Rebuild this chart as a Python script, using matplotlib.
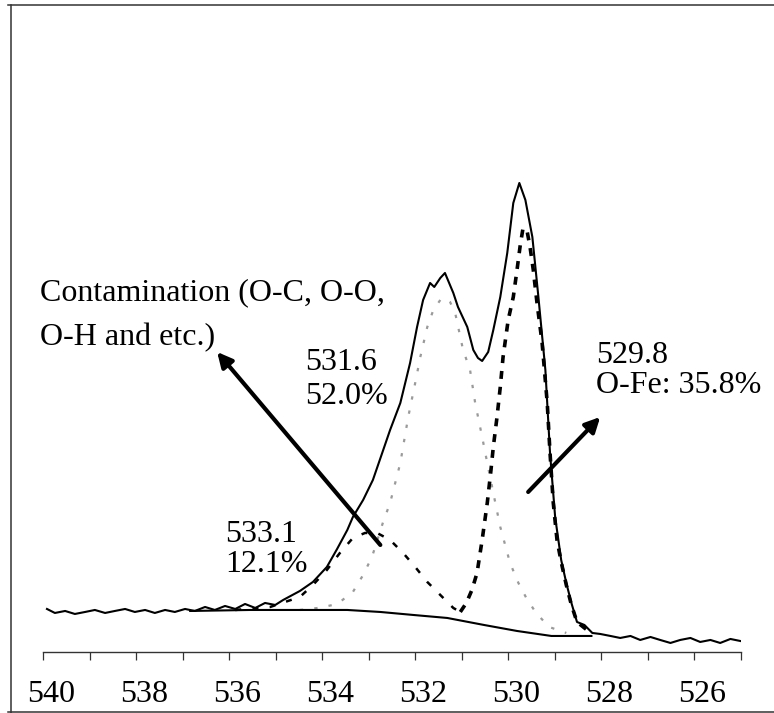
import matplotlib
matplotlib.use("Agg")
import matplotlib.pyplot as plt
from matplotlib.lines import Line2D
from matplotlib.ticker import MultipleLocator
from matplotlib.transforms import ScaledTranslation

plt.rcParams['font.family'] = ['Liberation Serif', 'DejaVu Serif']

# O 1s spectrum, binding energy (eV) and intensity (a.u.)
energy = [539.92, 539.75, 539.53, 539.32, 539.10, 538.89, 538.67, 538.46, 538.24, 538.03,
          537.81, 537.60, 537.38, 537.17, 536.95, 536.74, 536.52, 536.31, 536.09, 535.87,
          535.66, 535.44, 535.23, 535.01, 534.84, 534.48, 534.20, 533.90, 533.68, 533.46,
          533.34, 533.12, 532.91, 532.71, 532.54, 532.32, 532.11, 531.96, 531.83, 531.68,
          531.59, 531.46, 531.36, 531.18, 531.08, 530.88, 530.75, 530.65, 530.56, 530.43,
          530.32, 530.17, 530.02, 529.89, 529.76, 529.63, 529.48, 529.35, 529.20, 529.10,
          528.99, 528.86, 528.75, 528.64, 528.52, 528.36, 528.19, 528.02, 527.80, 527.59,
          527.37, 527.16, 526.94, 526.73, 526.51, 526.30, 526.08, 525.87, 525.65, 525.44,
          525.22, 525.01]
counts = [43, 39, 41, 38, 40, 42, 39, 41, 43, 40,
          42, 39, 42, 40, 43, 41, 45, 42, 46, 43,
          48, 44, 49, 47, 52, 61, 70, 85, 103, 122,
          135, 152, 172, 199, 222, 249, 289, 325, 352, 369,
          365, 374, 379, 359, 345, 325, 302, 294, 291, 300,
          322, 355, 399, 449, 469, 452, 415, 355, 282, 199,
          135, 92, 69, 49, 30, 27, 19, 18, 16, 14,
          16, 12, 15, 12, 9, 12, 14, 10, 12, 9,
          13, 11]

# Shirley-type background
bg_energy = [536.84, 535.55, 534.48, 533.46, 532.75, 532.04, 531.31, 530.52, 529.81, 529.07, 528.21]
bg_counts = [41, 42, 42, 42, 40, 37, 34, 27, 21, 16, 16]

# fitted components
c533_energy = [535.87, 535.12, 534.48, 534.20, 533.90, 533.62, 533.34, 533.08, 532.82, 532.54,
               532.26, 532.00, 531.74, 531.46, 531.18, 531.03]
c533_counts = [42, 45, 55, 67, 82, 99, 114, 119, 119, 112, 99, 85, 70, 57, 44, 40]

c531_energy = [534.48, 534.09, 533.77, 533.62, 533.34, 533.12, 532.93, 532.69, 532.54, 532.32,
               532.15, 532.00, 531.89, 531.74, 531.61, 531.46, 531.36, 531.25, 531.14, 530.97,
               530.82, 530.71, 530.56, 530.45, 530.32, 530.17, 529.96, 529.78, 529.61, 529.40,
               529.12, 528.75]
c531_counts = [42, 44, 47, 50, 60, 77, 95, 130, 149, 189,
               235, 269, 295, 325, 342, 352, 354, 350, 339, 302,
               282, 249, 215, 189, 159, 125, 89, 69, 54, 39,
               25, 19]

c530_energy = [531.03, 530.90, 530.78, 530.67, 530.56, 530.45, 530.37, 530.32, 530.24, 530.17,
               530.11, 530.00, 529.89, 529.81, 529.74, 529.68, 529.59, 529.53, 529.46, 529.38,
               529.27, 529.16, 529.10, 529.03, 528.95, 528.86, 528.75, 528.64, 528.52, 528.36,
               528.19]
c530_counts = [40, 49, 62, 79, 112, 149, 182, 205, 235, 265,
               295, 332, 355, 382, 407, 424, 420, 405, 382, 349,
               309, 249, 199, 149, 112, 90, 67, 47, 30, 24,
               18]

tick_labels = ['540', '538', '536', '534', '532', '530', '528', '526']

fig = plt.figure(figsize=(7.74, 7.13), dpi=100)
ax = fig.add_axes([0.0559, 0.0856, 0.9010, 0.9074])

ax.plot(c531_energy, c531_counts, color='#9a9a9a', lw=1.6, linestyle=(0, (1.5, 5)))
ax.plot(c533_energy, c533_counts, color='black', lw=1.8, linestyle=(0, (2.4, 4.5)))
ax.plot(c530_energy, c530_counts, color='black', lw=2.6, linestyle=(0, (2.2, 2.2)))
ax.plot(bg_energy, bg_counts, color='black', lw=1.5)
ax.plot(energy, counts, color='black', lw=1.5)

ax.set_xlim(540, 525)
ax.set_ylim(0, 647)

ax.xaxis.set_minor_locator(MultipleLocator(1))
ax.set_xticks([540, 538, 536, 534, 532, 530, 528, 526])
ax.set_xticklabels(tick_labels)
ax.tick_params(axis='x', which='both', direction='out', length=5.5, width=0.9, color='#333333')
ax.tick_params(axis='x', which='major', labelsize=23, pad=15)
# labels sit slightly right of their ticks in the original
for lab in ax.get_xticklabels():
    lab.set_transform(lab.get_transform() + ScaledTranslation(0.08, 0, fig.dpi_scale_trans))
ax.set_yticks([])
for side in ['left', 'right', 'top']:
    ax.spines[side].set_visible(False)
ax.spines['bottom'].set_linewidth(1.0)
ax.spines['bottom'].set_color('#333333')
ax.patch.set_alpha(0)

# labels
ax.text(540.07, 352, 'Contamination (O-C, O-O,', fontsize=23)
ax.text(540.07, 307, 'O-H and etc.)', fontsize=23)
ax.text(534.37, 282, '531.6', fontsize=23)
ax.text(534.37, 248, '52.0%', fontsize=23)
ax.text(536.09, 110, '533.1', fontsize=23)
ax.text(536.09, 80, '12.1%', fontsize=23)
ax.text(528.11, 289, '529.8', fontsize=23)
ax.text(528.11, 259, 'O-Fe: 35.8%', fontsize=23)

arrow = dict(arrowstyle='-|>', lw=3, color='black', mutation_scale=22, shrinkA=0, shrinkB=0)
ax.annotate('', xy=(536.26, 300), xytext=(532.75, 107), arrowprops=arrow)
ax.annotate('', xy=(528.02, 235), xytext=(529.57, 160), arrowprops=arrow)

# outer frame (top, left, bottom)
frame = dict(color='#333333', lw=1.1, transform=fig.transFigure)
fig.add_artist(Line2D([0.010, 1.0], [0.993, 0.993], **frame))
fig.add_artist(Line2D([0.0142, 0.0142], [0.0, 0.993], **frame))
fig.add_artist(Line2D([0.010, 1.0], [0.0015, 0.0015], **frame))

fig.savefig('out.png', dpi=100)
